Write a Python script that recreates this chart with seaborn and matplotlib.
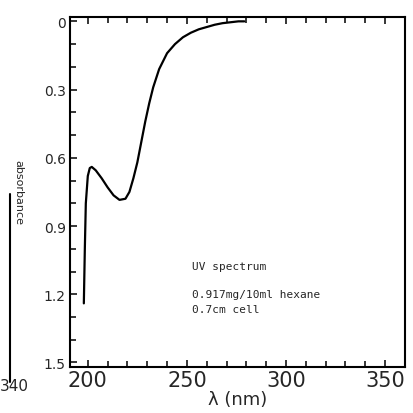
import matplotlib
matplotlib.use("Agg")
import matplotlib.pyplot as plt
import numpy as np
import pandas as pd
import seaborn as sns

# values
wavelength = [198, 198.5, 199, 200, 201, 202, 204, 207, 210, 213, 216, 219,
              221, 223, 225, 227, 229, 231, 233, 236, 240, 244, 248, 252,
              256, 258, 260, 264, 268, 272, 276, 279]
absorbance = [1.24, 1.0, 0.8, 0.68, 0.645, 0.64, 0.655, 0.69, 0.73, 0.765,
              0.785, 0.78, 0.75, 0.69, 0.62, 0.53, 0.44, 0.36, 0.29, 0.21,
              0.14, 0.10, 0.07, 0.05, 0.035, 0.03, 0.025, 0.015, 0.008,
              0.004, 0.0, 0.0]
x_ticks = [200, 250, 300, 350]
y_ticks = [0, 0.3, 0.6, 0.9, 1.2, 1.5]
y_tick_labels = ["0", "0.3", "0.6", "0.9", "1.2", "1.5"]
note_lines = ["UV spectrum", "0.917mg/10ml hexane", "0.7cm cell"]

sns.set_style("ticks")
plt.rcParams["font.family"] = ["DejaVu Sans"]

df = pd.DataFrame({"wavelength": wavelength, "absorbance": absorbance})

fig = plt.figure(figsize=(4.14, 4.14), dpi=100)
ax = fig.add_axes([0.169, 0.111, 0.809, 0.846])

sns.lineplot(data=df, x="wavelength", y="absorbance", ax=ax,
             color="black", linewidth=1.6, sort=False)

ax.set_xlim(191, 360)
ax.set_ylim(1.52, -0.02)
ax.set_xticks(x_ticks)
ax.set_xticks(np.arange(200, 360, 10), minor=True)
ax.set_yticks(y_ticks)
ax.set_yticklabels(y_tick_labels)
ax.set_yticks(np.arange(0, 1.55, 0.1), minor=True)
ax.tick_params(axis="x", which="both", direction="in", top=True,
               labelsize=15, pad=2)
ax.tick_params(axis="y", which="both", direction="in", right=False,
               labelsize=10, pad=3)
ax.tick_params(which="major", length=5, width=1.3)
ax.tick_params(which="minor", length=4, width=1.3)

for side in ax.spines.values():
    side.set_linewidth(1.5)
    side.set_color("black")

ax.set_xlabel("λ (nm)", fontsize=13, labelpad=0)
ax.set_ylabel("absorbance", fontsize=8, rotation=270, labelpad=-34)
ax.yaxis.set_label_coords(-0.17, 0.5)

ax.text(252.5, 1.09, note_lines[0], family="DejaVu Sans Mono", fontsize=8)
ax.text(252.5, 1.21, note_lines[1], family="DejaVu Sans Mono", fontsize=8)
ax.text(252.5, 1.28, note_lines[2], family="DejaVu Sans Mono", fontsize=8)

# edge of the neighbouring page in the scan
fig.add_artist(plt.Line2D([0.025, 0.025], [0.075, 0.53], color="black", lw=1.5))
fig.text(0.0, 0.055, "340", fontsize=11)

fig.savefig("out.png", dpi=100, facecolor="white")
